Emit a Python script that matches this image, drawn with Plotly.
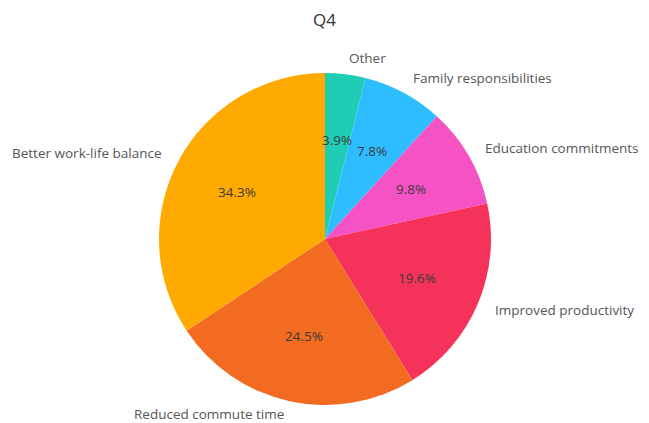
import math
import plotly.graph_objects as go

title = "Q4"
categories = ["Better work-life balance", "Reduced commute time", "Improved productivity",
              "Education commitments", "Family responsibilities", "Other"]
counts = [35, 25, 20, 10, 8, 4]
colors = ["#FFAA00", "#F26B21", "#F5325A", "#F552C4", "#2EBEFF", "#1FCDB5"]

W, H = 649, 423
cx, cy, r = 325, 239, 166  # pie centre / radius in pixels

# matplotlib-style: start at 12 o'clock, counterclockwise == reversed order clockwise
fig = go.Figure(go.Pie(
    labels=categories[::-1], values=counts[::-1], sort=False, direction="clockwise",
    rotation=0, marker=dict(colors=colors[::-1], line=dict(width=0)),
    textinfo="none", hoverinfo="label+percent", showlegend=False,
    domain=dict(x=[(cx - r) / W, (cx + r) / W], y=[(H - cy - r) / H, (H - cy + r) / H]),
))

total = sum(counts)
ann = []
start = 90.0
fam = "Open Sans, DejaVu Sans, sans-serif"
for lab, v in zip(categories, counts):
    span = 360.0 * v / total
    mid = math.radians(start + span / 2)
    start += span
    lx = cx + 1.1 * r * math.cos(mid)
    ly = min(cy - 1.1 * r * math.sin(mid), H - 9)
    ann.append(dict(x=lx / W, y=1 - ly / H, xref="paper", yref="paper", text=lab,
                    showarrow=False, xanchor="left" if math.cos(mid) > 0 else "right",
                    yanchor="middle", font=dict(family=fam, size=13.5, color="#555555")))
    px = cx + 0.6 * r * math.cos(mid)
    py = cy - 0.6 * r * math.sin(mid)
    ann.append(dict(x=px / W, y=1 - py / H, xref="paper", yref="paper",
                    text=f"{100 * v / total:.1f}%", showarrow=False,
                    xanchor="center", yanchor="middle",
                    font=dict(family=fam, size=13.5, color="#3a3a3a")))

fig.update_layout(
    width=W, height=H, margin=dict(l=0, r=0, t=0, b=0),
    paper_bgcolor="white", plot_bgcolor="white",
    title=dict(text=title, x=0.5, xanchor="center", y=1 - 20 / H, yanchor="middle",
               font=dict(family=fam, size=17, color="#333333")),
    annotations=ann,
)

fig.write_html("out.html")
